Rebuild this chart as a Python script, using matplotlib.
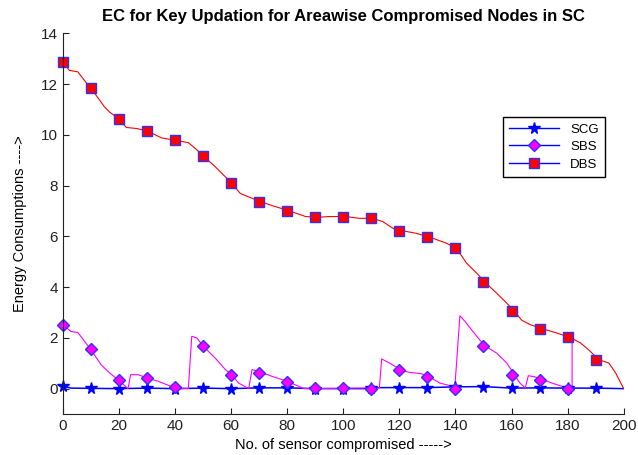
import matplotlib.pyplot as plt
from matplotlib.lines import Line2D

plt.rcParams['font.family'] = ['Liberation Sans', 'DejaVu Sans']

# sample points of each scheme (every 10 nodes)
node_x = [0, 10, 20, 30, 40, 50, 60, 70, 80, 90, 100, 110, 120, 130, 140, 150, 160, 170, 180, 190]
scg_pts = [0.1, 0.02, 0.0, 0.02, 0.0, 0.02, 0.0, 0.03, 0.03, 0.0, 0.0, 0.02, 0.04, 0.04, 0.07, 0.08, 0.02, 0.03, 0.02, 0.02]
sbs_x = node_x[:19]
sbs_pts = [2.52, 1.57, 0.35, 0.42, 0.07, 1.66, 0.55, 0.62, 0.28, 0.03, 0.03, 0.0, 0.72, 0.46, 0.0, 1.69, 0.55, 0.35, 0.0]
dbs_pts = [12.87, 11.85, 10.62, 10.15, 9.79, 9.16, 8.09, 7.37, 7.01, 6.75, 6.75, 6.71, 6.23, 5.97, 5.53, 4.2, 3.04, 2.36, 2.02, 1.14]

# full energy traces
scg_line_x = [0, 3, 10, 20, 30, 40, 50, 60, 70, 80, 90, 100, 110, 113, 130, 140, 150, 160, 170, 180, 190, 200]
scg_line_y = [0.1, 0.02, 0.01, 0.0, 0.02, 0.0, 0.02, 0.0, 0.03, 0.03, 0.0, 0.0, 0.0, 0.04, 0.04, 0.07, 0.08, 0.02, 0.03, 0.02, 0.02, 0.0]

sbs_line_x = [0, 3, 5.4, 9.8, 13.7, 16.7, 19.7, 23.3, 24.2, 26.9, 29.8, 34, 40, 44.8,
              46, 47.8, 50.2, 54.4, 58, 60.3, 62.7, 66.3, 67.5, 69.9, 74.7, 80, 86,
              112.9, 113.7, 116.5, 120.7, 123.7, 127.8, 130.8, 134.4, 139.8,
              141.6, 143.4, 147.6, 150.5, 154.7, 158.3, 161, 163, 164.9,
              166, 168.5, 171.4, 174.4, 178, 180, 181.6, 181.6]
sbs_line_y = [2.52, 2.25, 2.21, 1.57, 0.94, 0.62, 0.35, 0.0, 0.55, 0.55, 0.43, 0.29, 0.03, 0.0,
              2.06, 2.0, 1.66, 1.2, 0.75, 0.55, 0.22, 0.0, 0.75, 0.68, 0.48, 0.29, 0.0,
              0.03, 1.17, 1.01, 0.72, 0.64, 0.59, 0.46, 0.22, 0.07,
              2.87, 2.65, 2.06, 1.69, 1.4, 1.01, 0.55, 0.22, 0.03,
              0.51, 0.46, 0.35, 0.22, 0.09, 0.0, 0.0, 2.0]

dbs_line_x = [0, 2.4, 5.4, 9.8, 11.9, 14.9, 16.7, 20.1, 22.7, 26.3, 30.2, 35.2, 40, 44.8, 47.2,
              50.2, 54.4, 57.3, 60.3, 63.3, 67.5, 70.5, 74.7, 80.6, 86.6, 90.8, 95, 101,
              105.7, 110.5, 114.1, 117.7, 120.7, 126, 130.8, 136.8, 140.4, 144, 147.6,
              150.5, 154.7, 158.3, 161, 163.7, 166.7, 171, 176.2, 180.8, 184.6, 187.5,
              191.1, 194.7, 197.1, 200]
dbs_line_y = [12.87, 12.54, 12.48, 11.85, 11.56, 11.1, 10.9, 10.62, 10.29, 10.25, 10.15, 9.88, 9.79, 9.69, 9.47,
              9.16, 8.74, 8.42, 8.09, 7.69, 7.5, 7.37, 7.21, 7.01, 6.78, 6.75, 6.78, 6.78,
              6.71, 6.71, 6.58, 6.32, 6.23, 6.12, 5.97, 5.73, 5.53, 4.94, 4.55,
              4.2, 3.76, 3.37, 3.04, 2.69, 2.52, 2.36, 2.19, 2.02, 1.8, 1.53,
              1.14, 1.01, 0.62, 0.0]

fig = plt.figure(figsize=(6.38, 4.55), dpi=100)
ax = fig.add_axes([0.0983, 0.0901, 0.8793, 0.8367])

ax.plot(scg_line_x, scg_line_y, color='b', lw=1.1)
ax.plot(sbs_line_x, sbs_line_y, color='#ff00ff', lw=0.8)
ax.plot(dbs_line_x, dbs_line_y, color='#ff0000', lw=0.8)

ax.plot(node_x, scg_pts, ls='none', marker='*', ms=8.5, mfc='b', mec='b', clip_on=False)
ax.plot(sbs_x, sbs_pts, ls='none', marker='D', ms=6.5, mfc='#ff00ff', mec='#3030ff', mew=1, clip_on=False)
ax.plot(node_x, dbs_pts, ls='none', marker='s', ms=7.5, mfc='#ff0000', mec='#3030ff', mew=1, clip_on=False)

ax.set_xlim(0, 200)
ax.set_ylim(-1, 14)
ax.set_xticks(range(0, 201, 20))
ax.set_yticks(range(0, 15, 2))
ax.tick_params(direction='in', length=4, labelsize=11, colors='#222222')
ax.spines['top'].set_visible(False)
ax.spines['right'].set_visible(False)
for s in ('left', 'bottom'):
    ax.spines[s].set_color('#222222')

ax.set_title('EC for Key Updation for Areawise Compromised Nodes in SC',
             fontsize=12, fontweight='bold', pad=9)
ax.set_xlabel('No. of sensor compromised ----->', fontsize=10.5, labelpad=4)
ax.set_ylabel('Energy Consumptions ---->', fontsize=10.5, labelpad=10)

handles = [
    Line2D([], [], color='b', lw=1, marker='*', ms=8.5, mfc='b', mec='b'),
    Line2D([], [], color='b', lw=1, marker='D', ms=6.5, mfc='#ff00ff', mec='#3030ff'),
    Line2D([], [], color='b', lw=1, marker='s', ms=7.5, mfc='#ff0000', mec='#3030ff'),
]
leg = ax.legend(handles, ['SCG', 'SBS', 'DBS'], loc='upper right',
                bbox_to_anchor=(0.967, 0.781), borderaxespad=0, fontsize=9.5,
                fancybox=False, edgecolor='black', framealpha=1, handlelength=3.8,
                borderpad=0.5, labelspacing=0.4)
leg.get_frame().set_linewidth(1)

fig.savefig('out.png', dpi=100)
